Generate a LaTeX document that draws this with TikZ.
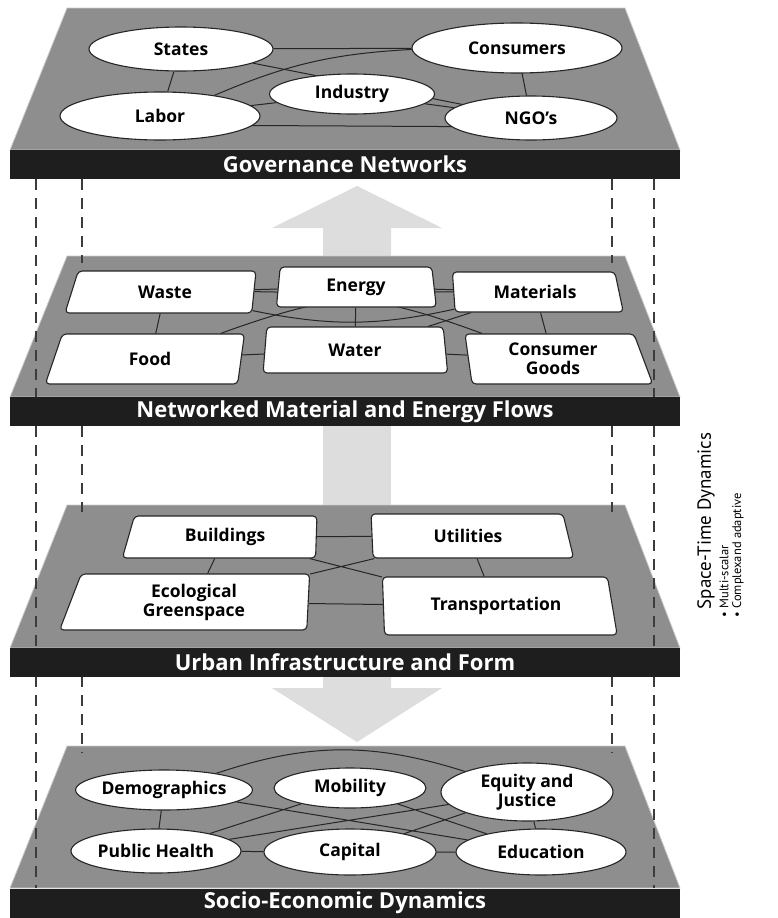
\documentclass[tikz,border=0pt]{standalone}
\usepackage{fontspec}
\setmainfont{Open Sans}
\newfontfamily\sidefont{PT Sans}
\usetikzlibrary{shapes.geometric,calc}
\definecolor{PlaneGray}{HTML}{8E8E8E}
\definecolor{BandBlack}{HTML}{1E1E1E}
\definecolor{FlowGray}{HTML}{DDDDDD}
\definecolor{GuideGray}{HTML}{3C3C3C}
\pgfdeclarelayer{planes}
\pgfdeclarelayer{links}
\pgfsetlayers{planes,links,main}

\begin{document}
\begin{tikzpicture}[
    x=1pt, y=-1pt,
    oval/.style={ellipse,draw=black!85,line width=1.1pt,fill=white,inner sep=0pt,
      align=center,font=\bfseries\fontsize{17.5}{19}\selectfont},
    tbox/.style={trapezium,trapezium stretches=true,draw=black!85,line width=1.1pt,
      fill=white,rounded corners=4pt,inner sep=0pt,align=center,
      font=\bfseries\fontsize{17.5}{19}\selectfont},
    band/.style={rectangle,fill=BandBlack,minimum width=670pt,minimum height=29pt,
      inner sep=0pt,text=white,font=\bfseries\fontsize{22}{22}\selectfont},
    plane/.style={fill=PlaneGray,draw=black!20,line width=0.8pt},
    link/.style={draw=black!85,line width=1pt},
    guide/.style={GuideGray,line width=1.2pt,dash pattern=on 11pt off 8pt},
    flow/.style={fill=FlowGray}
  ]
  \useasboundingbox (0,0) rectangle (777,918);

  % Governance layer
  \node[oval,minimum width=184pt,minimum height=44pt] (states) at (181,49) {States};
  \node[oval,minimum width=210pt,minimum height=50pt] (consumers) at (517,48) {Consumers};
  \node[oval,minimum width=165pt,minimum height=40pt] (industry) at (352,94) {Industry};
  \node[oval,minimum width=200pt,minimum height=48pt] (labor) at (160,116) {Labor};
  \node[oval,minimum width=172pt,minimum height=44pt] (ngo) at (531,118) {NGO's};
  \node[band] (gov) at (345,164.5) {Governance Networks};

  % Material and energy flows layer
  \node[tbox,minimum width=192pt,minimum height=42pt,trapezium left angle=72,trapezium right angle=96] (waste) at (165,292) {Waste};
  \node[tbox,minimum width=160pt,minimum height=40pt,trapezium left angle=85,trapezium right angle=84] (energy) at (356,287) {Energy};
  \node[tbox,minimum width=172pt,minimum height=40pt,trapezium left angle=96,trapezium right angle=72] (materials) at (535,292) {Materials};
  \node[tbox,minimum width=200pt,minimum height=50pt,trapezium left angle=73,trapezium right angle=97] (food) at (150,359) {Food};
  \node[tbox,minimum width=185pt,minimum height=46pt,trapezium left angle=85,trapezium right angle=84] (water) at (355,350) {Water};
  \node[tbox,minimum width=188pt,minimum height=50pt,trapezium left angle=97,trapezium right angle=72] (goods) at (553,359) {Consumer\\Goods};
  \node[band] (flows) at (345,411.5) {Networked Material and Energy Flows};

  % Urban infrastructure layer
  \node[tbox,minimum width=196pt,minimum height=42pt,trapezium left angle=73,trapezium right angle=92] (buildings) at (225,537) {Buildings};
  \node[tbox,minimum width=203pt,minimum height=44pt,trapezium left angle=93,trapezium right angle=74] (utilities) at (468,536) {Utilities};
  \node[tbox,minimum width=250pt,minimum height=56pt,trapezium left angle=75,trapezium right angle=92] (eco) at (194,602) {Ecological\\Greenspace};
  \node[tbox,minimum width=235pt,minimum height=58pt,trapezium left angle=94,trapezium right angle=72] (transport) at (496,606) {Transportation};
  \node[band] (urban) at (345,662) {Urban Infrastructure and Form};

  % Socio-economic layer
  \node[oval,minimum width=156pt,minimum height=40pt] (demo) at (164,790) {Demographics};
  \node[oval,minimum width=152pt,minimum height=40pt] (mobility) at (350,788) {Mobility};
  \node[oval,minimum width=172pt,minimum height=58pt] (equity) at (527,792) {Equity and\\Justice};
  \node[oval,minimum width=170pt,minimum height=44pt] (health) at (156,851) {Public Health};
  \node[oval,minimum width=172pt,minimum height=46pt] (capital) at (350,852) {Capital};
  \node[oval,minimum width=170pt,minimum height=46pt] (education) at (541,852) {Education};
  \node[band] (socio) at (345,903) {Socio-Economic Dynamics};

  % side note
  \node[rotate=90,font=\sidefont\fontsize{19}{19}\selectfont] (spacetime) at (706,521) {Space-Time Dynamics};
  \node[rotate=90,anchor=west,font=\sidefont\fontsize{12.5}{12.5}\selectfont] (multi) at (724,621) {\textbullet\ Multi-scalar};
  \node[rotate=90,anchor=west,font=\sidefont\fontsize{12.5}{12.5}\selectfont] (complex) at (738,621) {\textbullet\ Complexand adaptive};

  \begin{pgfonlayer}{planes}
    % big arrows between layers
    \fill[flow] (323,258) -- (323,228) -- (272,228) -- (357,186) -- (442,228) -- (391,228) -- (391,258) -- cycle;
    \fill[flow] (323,426) rectangle (391,507);
    \fill[flow] (323,676) -- (391,676) -- (391,688) -- (442,688) -- (357,742) -- (272,688) -- (323,688) -- cycle;
    % the four planes
    \foreach \t/\b in {8/150, 256/397, 505/648, 746/888}
      \filldraw[plane] (67,\t) -- (625,\t) -- (680,\b) -- (10,\b) -- cycle;
    % corner guides
    \foreach \x in {36,654} {
      \draw[guide] (\x,179) -- (\x,397);
      \draw[guide] (\x,426) -- (\x,648);
      \draw[guide] (\x,676) -- (\x,888);
    }
    \foreach \x in {82,612} {
      \draw[guide] (\x,179) -- (\x,263);
      \draw[guide] (\x,426) -- (\x,512);
      \draw[guide] (\x,676) -- (\x,753);
    }
  \end{pgfonlayer}

  \begin{pgfonlayer}{links}
    \draw[link] (states) -- (labor) (consumers) -- (ngo) (states) -- (consumers)
      (states) -- (ngo) (labor) -- (industry) (industry) -- (ngo);
    \draw[link] (labor) to[bend left=10] (consumers);
    \draw[link] ([yshift=-9pt]labor.center) -- ([yshift=-9pt]ngo.center);

    \draw[link] (waste) -- (energy) (energy) -- (materials) (waste) -- (food)
      (materials) -- (goods) (food) -- (water) (water) -- (goods) (energy) -- (water)
      (water) -- (materials);
    \draw[link] (waste) to[bend right=12] (materials);
    \draw[link] (food) to[bend left=10] (materials);
    \draw[link] (waste) to[bend left=10] (goods);

    \draw[link] (buildings) -- (utilities) (eco) -- (transport) (buildings) -- (eco)
      (utilities) -- (transport) (buildings) -- (transport) (eco) -- (utilities);

    \draw[link] (demo) -- (health) (equity) -- (education) (health) -- (capital)
      (capital) -- (education) (demo) -- (education) (mobility) -- (health)
      (mobility) -- (education) (equity) -- (health) (equity) -- (capital);
    \draw[link] (demo) to[bend left=18] (equity);
  \end{pgfonlayer}
\end{tikzpicture}
\end{document}
